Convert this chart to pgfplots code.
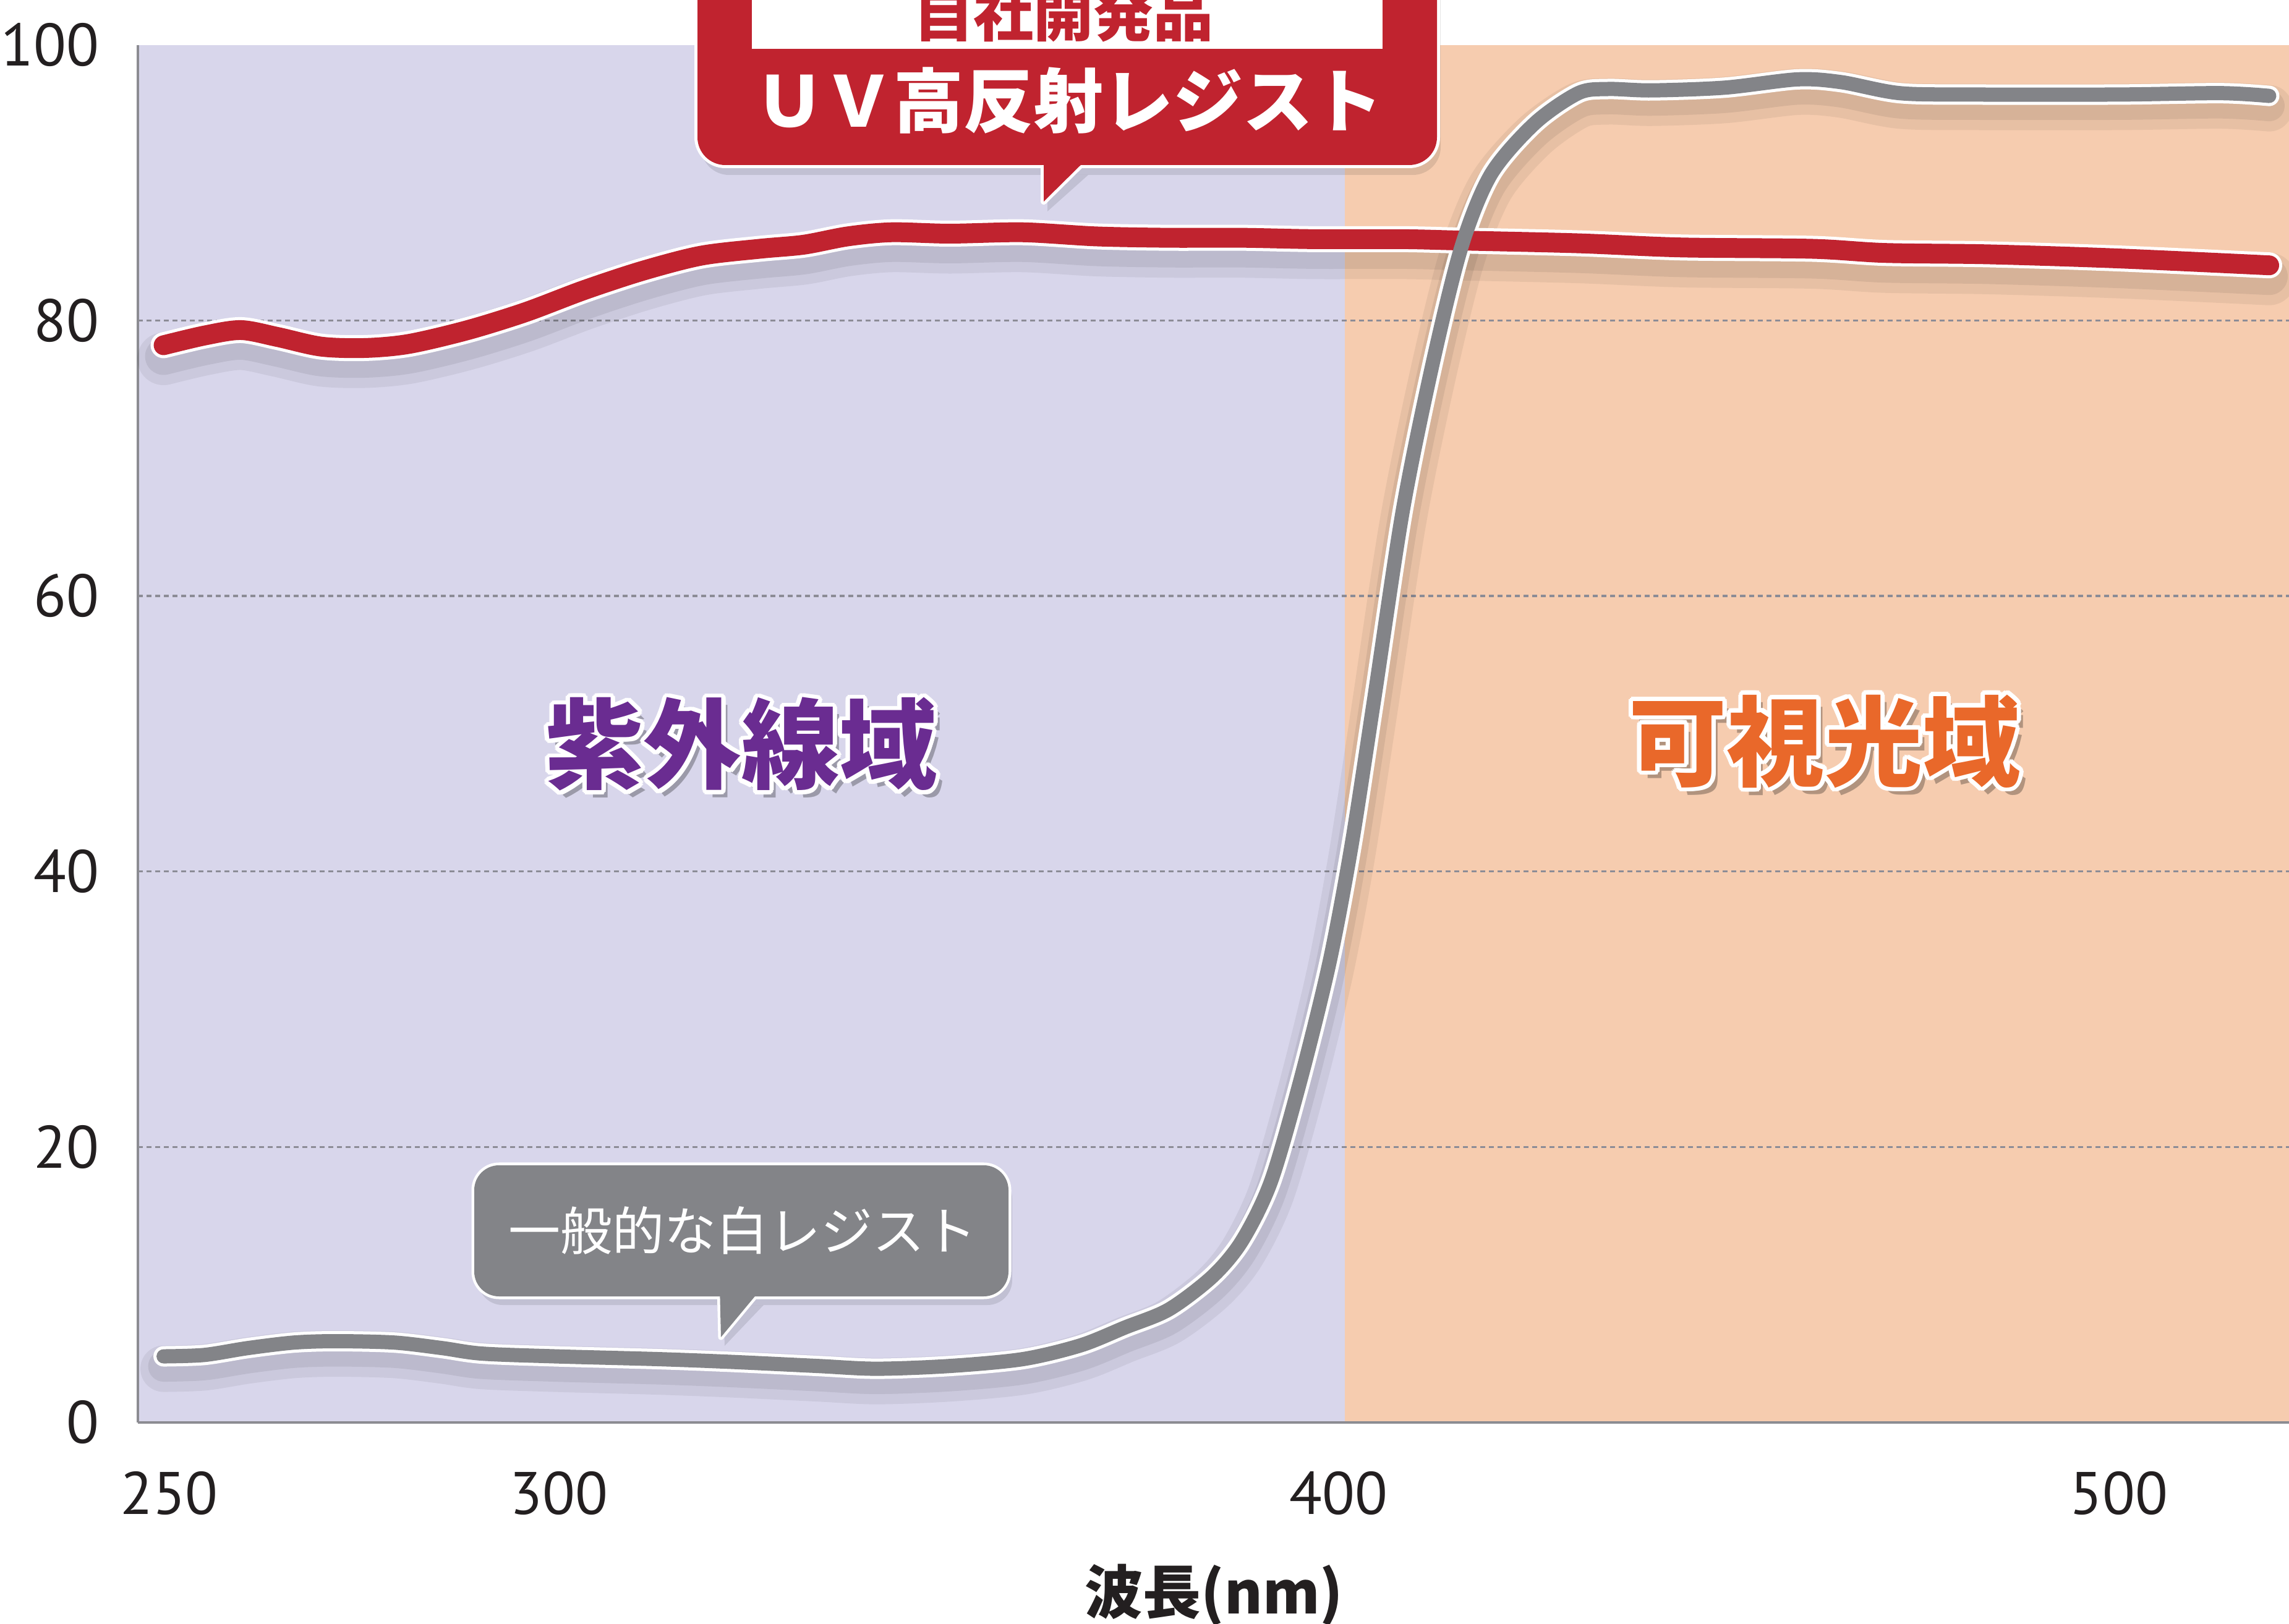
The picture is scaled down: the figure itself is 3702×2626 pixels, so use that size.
\documentclass[border=0pt]{standalone}
\usepackage{fontspec}
\usepackage{pgfplots}
\pgfplotsset{compat=1.18}
\usepackage{pgfplotstable}
\newfontfamily\numfont{PT Sans}
\newfontfamily\jp{Noto Sans CJK JP}

\definecolor{lav}{RGB}{216,214,235}
\definecolor{peach}{RGB}{246,204,175}
\definecolor{axisgray}{RGB}{140,140,146}
\definecolor{gridgray}{RGB}{140,140,150}
\definecolor{uvred}{RGB}{192,35,47}
\definecolor{linegray}{RGB}{131,132,136}
\definecolor{labelblack}{RGB}{35,31,32}
\definecolor{uvpurple}{RGB}{106,44,145}
\definecolor{visorange}{RGB}{233,104,42}

\pgfplotstableread{
x y
249.3 78.2
254.5 78.9
259.2 79.3
263.9 78.8
269.5 78.1
275.2 78.0
280.8 78.3
288.3 79.3
295.7 80.6
303.2 82.2
310.7 83.6
318.2 84.7
325.7 85.2
331.4 85.5
337.0 86.1
342.6 86.4
350.1 86.3
359.5 86.4
368.9 86.1
378.2 86.0
387.6 86.0
396.9 85.9
408.2 85.9
415.7 85.8
430.7 85.6
443.8 85.3
460.7 85.2
470.0 84.9
483.2 84.8
500.0 84.5
519.3 84.0
}\uvtab

\pgfplotstableread{
x y
249.3 4.8
254.5 4.9
260.1 5.4
266.0 5.8
271.4 5.9
278.9 5.8
285.0 5.4
290.1 5.0
299.5 4.8
312.6 4.6
322.0 4.4
333.2 4.1
340.7 3.9
350.1 4.1
359.5 4.6
366.9 5.6
372.6 6.9
378.2 8.2
383.8 10.6
387.6 13.2
391.3 17.5
395.1 24.9
398.8 33.4
401.6 41.8
404.5 52.4
408.2 66.2
412.0 76.8
415.7 85.3
419.5 90.6
425.1 94.3
430.7 96.5
434.5 96.8
440.1 96.7
449.5 96.9
458.8 97.5
464.4 97.3
471.9 96.5
481.3 96.4
500.0 96.4
513.1 96.5
519.3 96.3
}\whitetab

\newcommand\regionlabel[4]{%
  \node[text=black, opacity=0.28, font=\jp\bfseries\fontsize{45}{48}\selectfont] at ([shift={(10,12)}]#1,#2) {#4};
  \foreach \a in {0,20,...,340} {
    \node[text=white, font=\jp\bfseries\fontsize{45}{48}\selectfont] at ([shift={(\a:7)}]#1,#2) {#4};
  }
  \node[text=#3, font=\jp\bfseries\fontsize{45}{48}\selectfont] at (#1,#2) {#4};
}

\begin{document}
\begin{tikzpicture}
\begin{axis}[
  name=ax, at={(0,0)}, anchor=south west,
  scale only axis, width=34.79cm, height=22.27cm,
  xmin=246, xmax=522, ymin=0, ymax=100,
  set layers, clip=false,
  axis lines*=left,
  axis line style={draw=axisgray, line width=0.045cm},
  xtick={250,300,400,500}, ytick={0,20,...,100},
  major tick length=0pt,
  /pgf/number format/assume math mode=true,
  tick label style={font=\numfont\fontsize{27.6}{30}\selectfont, text=labelblack},
  xticklabel style={anchor=north, inner sep=0pt, yshift=-0.79cm},
  yticklabel style={anchor=east, inner sep=0pt, xshift=-0.62cm},
  xlabel={波長(nm)},
  xlabel style={at={(rel axis cs:0.5,0)}, anchor=center, inner sep=0pt, yshift=-2.79cm,
    font=\jp\bfseries\fontsize{26.7}{29}\selectfont, text=labelblack},
]
\begin{pgfonlayer}{axis background}
  \fill[lav] (axis cs:246,0) rectangle (axis cs:400.8,100);
  \fill[peach] (axis cs:400.8,0) rectangle (axis cs:522,100);
\end{pgfonlayer}
\begin{pgfonlayer}{axis grid}
  \draw[gridgray, line width=0.035cm, dash pattern=on 0.08cm off 0.06cm] (axis cs:246,20) -- (axis cs:522,20);
  \draw[gridgray, line width=0.035cm, dash pattern=on 0.08cm off 0.06cm] (axis cs:246,40) -- (axis cs:522,40);
  \draw[gridgray, line width=0.035cm, dash pattern=on 0.08cm off 0.06cm] (axis cs:246,60) -- (axis cs:522,60);
  \draw[gridgray, line width=0.035cm, dash pattern=on 0.08cm off 0.06cm] (axis cs:246,80) -- (axis cs:522,80);
\end{pgfonlayer}

% shadows
\addplot[draw=black, draw opacity=0.06, line width=0.75cm, yshift=-0.2cm, smooth, tension=0.5, line cap=round] table {\whitetab};
\addplot[draw=black, draw opacity=0.07, line width=0.5cm, yshift=-0.16cm, smooth, tension=0.5, line cap=round] table {\whitetab};
\addplot[draw=black, draw opacity=0.06, line width=0.85cm, yshift=-0.22cm, smooth, tension=0.5, line cap=round] table {\uvtab};
\addplot[draw=black, draw opacity=0.07, line width=0.6cm, yshift=-0.18cm, smooth, tension=0.5, line cap=round] table {\uvtab};
% white borders and lines
\addplot[draw=white, line width=0.33cm, smooth, tension=0.5, line cap=round] table {\whitetab};
\addplot[draw=white, line width=0.42cm, smooth, tension=0.5, line cap=round] table {\uvtab};
\addplot[draw=uvred, line width=0.32cm, smooth, tension=0.5, line cap=round] table {\uvtab};
\addplot[draw=linegray, line width=0.23cm, smooth, tension=0.5, line cap=round] table {\whitetab};
\end{axis}

\begin{scope}[shift={(ax.south west)}, x=0.01cm, y=-0.01cm, shift={(-223,-2301)}]
  % region labels
  \regionlabel{1199}{1204}{uvpurple}{紫外線域}
  \regionlabel{2951}{1199}{visorange}{可視光域}

  % red callout
  \fill[black, opacity=0.10, rounded corners=0.45cm] (1134,-200) rectangle (2330,283);
  \fill[black, opacity=0.10] (1694,283) -- (1694,342) -- (1760,283) -- cycle;
  \draw[white, line width=0.1cm, rounded corners=0.45cm] (1128,-200) rectangle (2324,267);
  \draw[white, line width=0.1cm, line join=round] (1688,250) -- (1688,326) -- (1765,250) -- cycle;
  \fill[uvred, rounded corners=0.45cm] (1128,-200) rectangle (2324,267);
  \fill[uvred] (1688,250) -- (1688,326) -- (1765,250) -- cycle;
  \fill[white] (1216,-100) rectangle (2236,79);
  \node[text=uvred, font=\jp\bfseries\fontsize{27.6}{30}\selectfont] at (1720,22) {自社開発品};
  \node[text=white, font=\jp\bfseries\fontsize{32.1}{34}\selectfont] at (1728,163) {ＵＶ高反射レジスト};

  % gray callout
  \fill[black, opacity=0.10, rounded corners=0.4cm] (773,1899) rectangle (1637,2111);
  \fill[black, opacity=0.10] (1170,2111) -- (1172,2177) -- (1235,2111) -- cycle;
  \draw[white, line width=0.09cm, rounded corners=0.4cm] (767,1885) rectangle (1631,2097);
  \draw[white, line width=0.09cm, line join=round] (1164,2080) -- (1166,2163) -- (1235,2080) -- cycle;
  \fill[linegray, rounded corners=0.4cm] (767,1885) rectangle (1631,2097);
  \fill[linegray] (1164,2080) -- (1166,2163) -- (1235,2080) -- cycle;
  \node[text=white, font=\jp\fontsize{23.9}{26}\selectfont] at (1201,1990) {一般的な白レジスト};

  \pgfresetboundingbox
  \path[use as bounding box] (0,0) rectangle (3702,2626);
\end{scope}
\end{tikzpicture}
\end{document}
